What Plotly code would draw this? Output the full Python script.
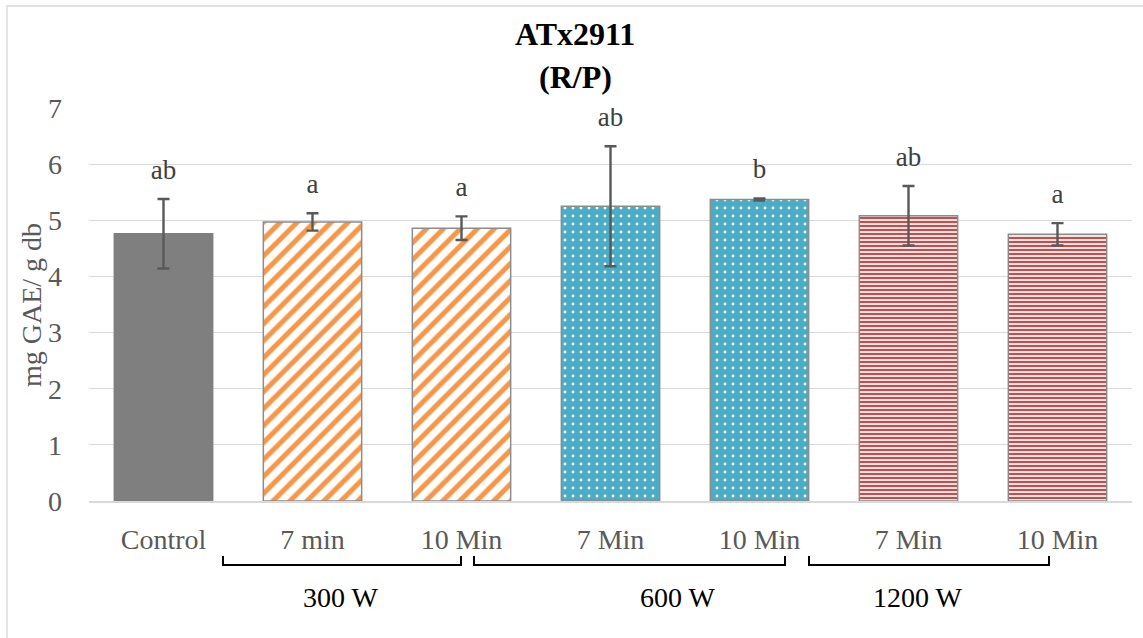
import plotly.graph_objects as go

categories = ["Control", "7 min", "10 Min", "7 Min ", "10 Min ", "7 Min  ", "10 Min  "]
tick_text = ["Control", "7 min", "10 Min", "7 Min", "10 Min", "7 Min", "10 Min"]
values = [4.76, 4.97, 4.86, 5.25, 5.37, 5.08, 4.75]
errors = [0.62, 0.155, 0.21, 1.07, 0.02, 0.53, 0.20]
letters = ["ab", "a", "a", "ab", "b", "ab", "a"]
groups = ["300 W", "600 W", "1200 W"]
series_index = [[0], [1, 2], [3, 4], [5, 6]]

SERIF = "Liberation Serif"
GRAY_TXT = "#595959"

styles = [
    dict(bg="#7F7F7F", shape="", fg="#7F7F7F", size=8, sol=0.3, line="#7F7F7F"),
    dict(bg="white", shape="/", fg="#F79646", size=12, sol=0.42, line="#8C8C8C"),
    dict(bg="#4BACC6", shape=".", fg="white", size=8, sol=0.1, line="#8C8C8C"),
    dict(bg="white", shape="-", fg="#C0504D", size=4, sol=0.58, line="#8C8C8C"),
]

fig = go.Figure()
for idx, st in zip(series_index, styles):
    fig.add_trace(go.Bar(
        x=[categories[i] for i in idx], y=[values[i] for i in idx], width=0.66,
        marker=dict(color=st["bg"],
                    line=dict(color=st["line"], width=1.5),
                    pattern=dict(shape=st["shape"], fgcolor=st["fg"], bgcolor=st["bg"],
                                 fgopacity=1, size=st["size"], solidity=st["sol"],
                                 fillmode="overlay")),
        error_y=dict(type="data", array=[errors[i] for i in idx], color="#595959",
                     thickness=2.4, width=6),
        showlegend=False, hoverinfo="skip",
    ))

label_offset = 0.48
fig.add_trace(go.Scatter(
    x=categories, y=[v + e + label_offset for v, e in zip(values, errors)],
    mode="text", text=letters, textposition="middle center",
    textfont=dict(family=SERIF, size=27, color="#404040"),
    showlegend=False, hoverinfo="skip",
))

W, H = 1143, 638
L, R, T, B = 89, 11, 108, 137
pw, ph = W - L - R, H - T - B


def px(xp):
    return (xp - L) / pw


def py(yp):
    return (H - B - yp) / ph


annotations = [
    dict(text="<b>ATx2911</b>", x=px(575), y=py(34), xref="paper", yref="paper",
         showarrow=False, xanchor="center", yanchor="middle",
         font=dict(family=SERIF, size=32, color="black")),
    dict(text="<b>(R/P)</b>", x=px(575), y=py(77), xref="paper", yref="paper",
         showarrow=False, xanchor="center", yanchor="middle",
         font=dict(family=SERIF, size=32, color="black")),
    dict(text="mg GAE/ g db", x=px(31), y=py(305), xref="paper", yref="paper",
         showarrow=False, xanchor="center", yanchor="middle", textangle=-90,
         font=dict(family=SERIF, size=28, color=GRAY_TXT)),
]
group_centers = [340, 677, 917]
for g, cx in zip(groups, group_centers):
    annotations.append(dict(text=g, x=px(cx), y=py(597), xref="paper", yref="paper",
                            showarrow=False, xanchor="center", yanchor="middle",
                            font=dict(family=SERIF, size=28, color="black")))

shapes = [dict(type="rect", xref="paper", yref="paper",
               x0=px(7), x1=px(1160), y0=py(660), y1=py(6),
               line=dict(color="#D9D9D9", width=1.3), layer="below")]
brackets = [(223, 461), (474, 785), (809, 1049)]
for x0, x1 in brackets:
    shapes.append(dict(type="path", xref="paper", yref="paper",
                       path=f"M {px(x0)},{py(556)} L {px(x0)},{py(565)} L {px(x1)},{py(565)} L {px(x1)},{py(556)}",
                       line=dict(color="black", width=2)))

fig.update_layout(
    width=W, height=H,
    margin=dict(l=L, r=R, t=T, b=B, pad=0),
    paper_bgcolor="white", plot_bgcolor="white",
    barmode="overlay",
    annotations=annotations, shapes=shapes,
    font=dict(family=SERIF, color=GRAY_TXT),
    xaxis=dict(tickmode="array", tickvals=categories, ticktext=tick_text,
               categoryorder="array", categoryarray=categories,
               tickfont=dict(family=SERIF, size=28, color=GRAY_TXT),
               showgrid=False, showline=True, linecolor="#D9D9D9", linewidth=1.5,
               ticks="", ticklabelstandoff=13, fixedrange=True),
    yaxis=dict(range=[0, 7], dtick=1, tick0=0,
               tickfont=dict(family=SERIF, size=28, color=GRAY_TXT),
               showgrid=True, gridcolor="#D9D9D9", gridwidth=1.3,
               zeroline=False, showline=False, ticks="",
               ticklabelstandoff=26, fixedrange=True),
)

fig.write_html("out.html")
